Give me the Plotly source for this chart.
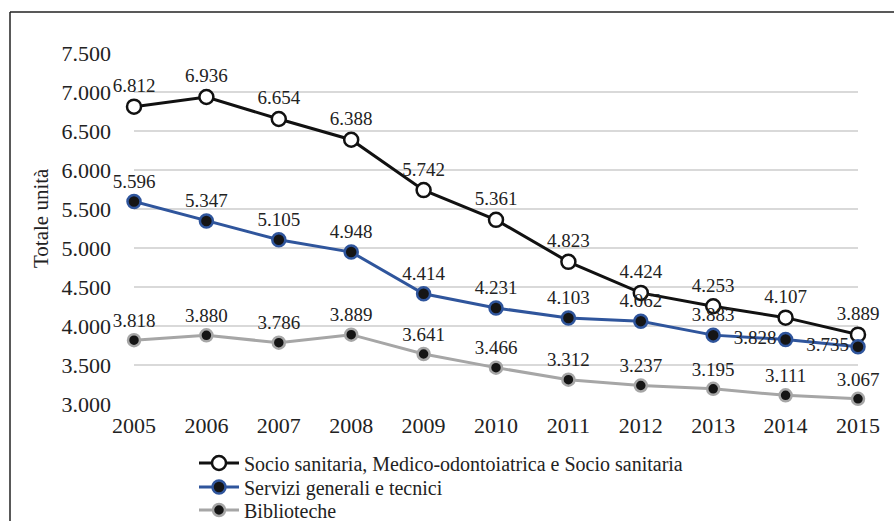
import plotly.graph_objects as go

years = [2005, 2006, 2007, 2008, 2009, 2010, 2011, 2012, 2013, 2014, 2015]
socio = [6812, 6936, 6654, 6388, 5742, 5361, 4823, 4424, 4253, 4107, 3889]
servizi = [5596, 5347, 5105, 4948, 4414, 4231, 4103, 4062, 3883, 3828, 3735]
biblio = [3818, 3880, 3786, 3889, 3641, 3466, 3312, 3237, 3195, 3111, 3067]
names = ["Socio sanitaria, Medico-odontoiatrica e Socio sanitaria",
         "Servizi generali e tecnici", "Biblioteche"]
yticks = [3000, 3500, 4000, 4500, 5000, 5500, 6000, 6500, 7000, 7500]

FONT = "Liberation Serif"


def fmt(v):
    return f"{v:,}".replace(",", ".")


L, R, T, B = 134, 36, 53, 117
W, H = 894, 521
pw, ph = W - L - R, H - T - B
LBL = dict(size=19, color="#222222", family=FONT)

fig = go.Figure()

fig.add_trace(go.Scatter(
    x=years, y=socio, name=names[0], mode="lines+markers+text", legend="legend",
    line=dict(color="#111111", width=3),
    marker=dict(size=14, color="white", line=dict(color="#111111", width=2.5)),
    text=[fmt(v) for v in socio], textposition="top center",
    textfont=LBL, cliponaxis=False))

pos_serv = ["top center"] * 9 + ["middle left", "middle left"]
fig.add_trace(go.Scatter(
    x=years, y=servizi, name=names[1], mode="lines+markers+text", legend="legend2",
    line=dict(color="#2f559c", width=3),
    marker=dict(size=13, color="#151515", line=dict(color="#2f559c", width=2.5)),
    text=[fmt(v) for v in servizi], textposition=pos_serv,
    textfont=LBL, cliponaxis=False))

fig.add_trace(go.Scatter(
    x=years, y=biblio, name=names[2], mode="lines+markers+text", legend="legend3",
    line=dict(color="#a6a6a6", width=3),
    marker=dict(size=12, color="#151515", line=dict(color="#a6a6a6", width=2.5)),
    text=[fmt(v) for v in biblio], textposition="top center",
    textfont=LBL, cliponaxis=False))


def leg(ycenter):
    return dict(x=(194 - L) / pw, y=(T + ph - ycenter) / ph, xanchor="left", yanchor="middle",
                font=dict(size=20, family=FONT, color="#222222"),
                itemwidth=40, bgcolor="rgba(0,0,0,0)")


fig.update_layout(
    width=W, height=H,
    margin=dict(l=L, r=R, t=T, b=B, autoexpand=False),
    paper_bgcolor="white", plot_bgcolor="white",
    font=dict(family=FONT, color="#222222"),
    separators=",.",
    showlegend=True,
    legend=leg(463), legend2=leg(487), legend3=leg(510),
    xaxis=dict(range=[2005, 2015], tickvals=years, ticktext=[str(y) for y in years],
               showgrid=False, zeroline=False, showline=False,
               tickfont=dict(size=22, family=FONT, color="#222222"),
               ticks="", ticklabelstandoff=6),
    yaxis=dict(range=[3000, 7500], tickvals=yticks, ticktext=[fmt(v) for v in yticks],
               showgrid=True, gridcolor="#d9d9d9", gridwidth=1.5, zeroline=False,
               showline=False, ticks="", ticklabelstandoff=22,
               tickfont=dict(size=22, family=FONT, color="#222222")),
)

fig.add_annotation(text="Totale unità", textangle=-90, xref="paper", yref="paper",
                   x=(27 - L) / pw, y=(T + ph - 218) / ph, showarrow=False,
                   font=dict(size=21, family=FONT, color="#222222"))

# frame (top and left edges of the chart border)
fig.add_shape(type="line", xref="paper", yref="paper",
              x0=(10 - L) / pw, x1=(W - L) / pw, y0=(T + ph - 12) / ph, y1=(T + ph - 12) / ph,
              line=dict(color="#222222", width=1.5))
fig.add_shape(type="line", xref="paper", yref="paper",
              x0=(10 - L) / pw, x1=(10 - L) / pw, y0=(T + ph - 12) / ph, y1=(T + ph - H) / ph,
              line=dict(color="#222222", width=1.5))

fig.write_html("out.html", config={"displayModeBar": False},
               post_script="document.body.style.margin='0';")
